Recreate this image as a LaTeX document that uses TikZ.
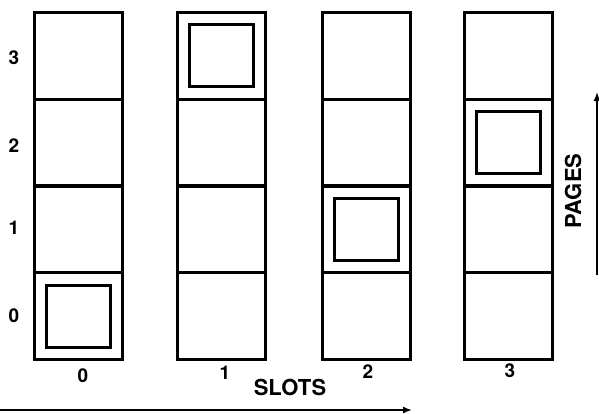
\documentclass[tikz,border=0pt]{standalone}
\usepackage{fontspec}
\setmainfont{TeX Gyre Heros}
\usetikzlibrary{positioning}
\usetikzlibrary{arrows.meta}

\begin{document}
\begin{tikzpicture}[x=1pt, y=-1pt, >={Latex[length=9pt,width=7pt]},
  slot/.style={draw, line width=3pt, minimum width=88pt, minimum height=87pt, inner sep=0pt},
  page/.style={draw, line width=3pt, minimum width=64pt, minimum height=62pt, inner sep=0pt},
  lbl/.style={font=\bfseries\fontsize{19}{19}\selectfont, inner sep=0pt},
  axis/.style={font=\bfseries\fontsize{22}{22}\selectfont, inner sep=0pt}]
  \useasboundingbox (0,0) rectangle (599,413);

  % columns of cells, one per slot
  \foreach \s/\x in {0/78, 1/221.5, 2/366, 3/508.5}
    \foreach \p in {0,...,3}
      \node[slot] (c\s\p) at (\x, {316-86.75*\p}) {};

  % the page held in each slot
  \foreach \s/\p in {0/0, 1/3, 2/1, 3/2}
    \node[page] (m\s) at (c\s\p) {};

  % page numbers
  \foreach \p/\y in {0/316, 1/228, 2/146, 3/58}
    \node[lbl] (p\p) at (14,\y) {\p};
  % slot numbers
  \foreach \s/\x/\y in {0/83/376, 1/225/373, 2/368/372, 3/510/371}
    \node[lbl] (s\s) at (\x,\y) {\s};

  % axes
  \node[axis] (slots) at (290,387) {SLOTS};
  \node[axis, rotate=90] (pages) at (573,191) {PAGES};
  \coordinate (sa) at (0,410);
  \coordinate (sb) at (412,410);
  \coordinate (pa) at (597,275);
  \coordinate (pb) at (597,92);
  \draw[->, line width=1.5pt] (sa) -- (sb);
  \draw[->, line width=1.5pt] (pa) -- (pb);
\end{tikzpicture}
\end{document}
